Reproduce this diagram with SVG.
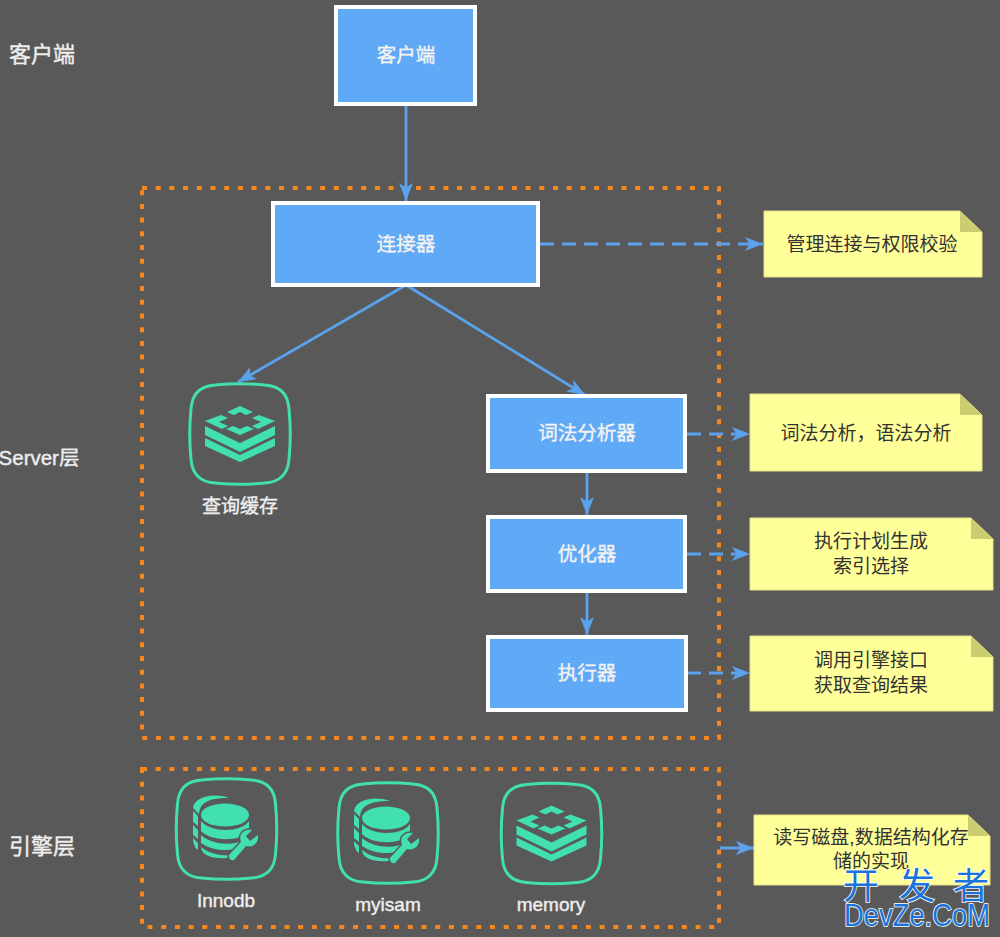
<svg xmlns="http://www.w3.org/2000/svg" xmlns:xlink="http://www.w3.org/1999/xlink" width="1000" height="937" viewBox="0 0 1000 937">
<style>
text{font-family:"Liberation Sans","Noto Sans CJK SC",sans-serif;text-anchor:middle}
.lbl{fill:#eeeeee;font-size:22px;stroke:#eeeeee;stroke-width:.4}
.box{fill:#60a9f6;stroke:#fff;stroke-width:4}
.boxt{fill:#f2f2f2;font-size:19.500px;stroke:#f2f2f2;stroke-width:.4}
.note{fill:#ffff99;stroke:#e6e08a;stroke-width:1}
.fold{fill:#cccc70}
.nt{fill:#333;font-size:19px}
.frame{fill:none;stroke:#f5871f;stroke-width:4;stroke-dasharray:5 8.700}
.c{fill:none;stroke:#5aa2ec;stroke-width:2.800}
.d{stroke-dasharray:14 8}
.ic{fill:none;stroke:#42dfb0;stroke-width:3}
.g{fill:#42dfb0}
.it{fill:#eeeeee;font-size:19px;stroke:#eeeeee;stroke-width:.4}
.wm{fill:#1a73d8;stroke:#fff;stroke-width:1.600;paint-order:stroke}
</style>
<defs>
<marker id="a" markerUnits="userSpaceOnUse" markerWidth="20" markerHeight="16" refX="18" refY="8" orient="auto"><path d="M0 1L18 8L0 15L4.500 8Z" fill="#5aa2ec"/></marker>
<path id="sq" class="ic" d="M-25-49C-10-50.500 10-50.500 25-49C40-48 48-40 49-25C50.500-10 50.500 10 49 25C48 40 40 48 25 49C10 50.500-10 50.500-25 49C-40 48-48 40-49 25C-50.500 10-50.500-10-49-25C-48-40-40-48-25-49Z"/>
<g id="stack">
<path class="g" d="M0-28L13-22L6-19L0-22L-6-19L-13-22ZM-19-19L-12-16L-21-12L-12-8L-18-5L-35-13ZM19-19L35-13L18-5L12-8L21-12L12-16ZM-7-8L0-5L7-8L14-5L0 1L-14-5Z"/>
<path class="g" d="M-35-8L0 9L35-8V1L0 18L-35 1ZM-35 4L0 21L35 4V12L0 28L-35 12Z"/>
</g>
<g id="db">
<path class="g" d="M-33-20C-32-30-15-36 3-30C-12-30-26-28-27-14ZM-33-17L-28-12V-2L-33-6ZM-33-3L-28 2V11L-33 7ZM-33 10L-28 15V22C-31 20-33 16-33 10Z"/>
<ellipse class="g" cx="-1" cy="-13" rx="24" ry="11.500"/>
<path class="g" d="M-25-7C-15 5 15 5 23-7V3C15 14-15 14-25 3ZM-25 7C-15 17 8 18 18 12L11 20C0 24-15 22-25 15ZM-25 19C-15 27-3 28 6 27L1 30C-12 31-25 28-25 19Z"/>
<path class="g" stroke="#595959" stroke-width="3" paint-order="stroke" d="M3 27L15 14C12 6 18 1 26 2L20 8L24 13L32 7C33 15 27 20 20 18L8 32A4 4 0 0 1 3 27Z"/>
</g>
</defs>
<rect width="1000" height="937" fill="#595959"/>
<g id="labels">
<text class="lbl" x="42" y="62">客户端</text>
<text class="lbl" x="39" y="465" style="font-size:20.500px">Server层</text>
<text class="lbl" x="42" y="854">引擎层</text>
</g>
<g id="frames">
<rect class="frame" x="142" y="188" width="577" height="550"/>
<rect class="frame" x="142" y="769" width="577" height="158"/>
</g>
<g id="connectors">
<path class="c" d="M406 105V201" marker-end="url(#a)"/>
<path class="c" d="M406 285L238 382" marker-end="url(#a)"/>
<path class="c" d="M406 285L585 395" marker-end="url(#a)"/>
<path class="c" d="M587 473V515" marker-end="url(#a)"/>
<path class="c" d="M587 593V635" marker-end="url(#a)"/>
<path class="c d" d="M540 244H763" marker-end="url(#a)"/>
<path class="c d" d="M687 434H750" marker-end="url(#a)"/>
<path class="c d" d="M687 554H750" marker-end="url(#a)"/>
<path class="c d" d="M687 673H750" marker-end="url(#a)"/>
<path class="c" d="M720 848H754" marker-end="url(#a)"/>
</g>
<g id="client"><rect class="box" x="336" y="7" width="139" height="97"/><text class="boxt" x="406" y="62">客户端</text></g>
<g id="connector"><rect class="box" x="273" y="203" width="265" height="82"/><text class="boxt" x="406" y="251">连接器</text></g>
<g id="parser"><rect class="box" x="488" y="396" width="197" height="75"/><text class="boxt" x="587" y="440">词法分析器</text></g>
<g id="optimizer"><rect class="box" x="488" y="517" width="197" height="74"/><text class="boxt" x="587" y="561">优化器</text></g>
<g id="executor"><rect class="box" x="488" y="637" width="198" height="73"/><text class="boxt" x="587" y="680">执行器</text></g>
<g id="cache"><use xlink:href="#sq" href="#sq" x="240" y="434"/><use xlink:href="#stack" href="#stack" x="240" y="434"/><text class="it" x="240" y="513">查询缓存</text></g>
<g id="innodb"><use xlink:href="#sq" href="#sq" x="226.500" y="829"/><use xlink:href="#db" href="#db" x="226" y="828"/><text class="it" x="226" y="907">Innodb</text></g>
<g id="myisam"><use xlink:href="#sq" href="#sq" x="388" y="833"/><use xlink:href="#db" href="#db" x="387" y="831"/><text class="it" x="388" y="911">myisam</text></g>
<g id="memory"><use xlink:href="#sq" href="#sq" x="551.500" y="833.500"/><use xlink:href="#stack" href="#stack" x="551.500" y="833.500"/><text class="it" x="551" y="911">memory</text></g>
<g id="note1"><path class="note" d="M764 211H960L982 232V277H764Z"/><path class="fold" d="M960 211L982 232H960Z"/><text class="nt" x="872" y="251">管理连接与权限校验</text></g>
<g id="note2"><path class="note" d="M750 394H960L982 415V471H750Z"/><path class="fold" d="M960 394L982 415H960Z"/><text class="nt" x="866" y="440">词法分析，语法分析</text></g>
<g id="note3"><path class="note" d="M750 518H971L993 539V590H750Z"/><path class="fold" d="M971 518L993 539H971Z"/><text class="nt" x="871" y="548">执行计划生成</text><text class="nt" x="871" y="573">索引选择</text></g>
<g id="note4"><path class="note" d="M750 636H971L993 657V711H750Z"/><path class="fold" d="M971 636L993 657H971Z"/><text class="nt" x="871" y="667">调用引擎接口</text><text class="nt" x="871" y="692">获取查询结果</text></g>
<g id="note5"><path class="note" d="M754 815H968L990 836V885H754Z"/><path class="fold" d="M968 815L990 836H968Z"/><text class="nt" x="871" y="844">读写磁盘,数据结构化存</text><text class="nt" x="871" y="868">储的实现</text></g>
<g id="watermark">
<text class="wm" x="861 917 971" y="899" font-size="36">开发者</text>
<text class="wm" x="917" y="926" font-size="31" textLength="146" lengthAdjust="spacingAndGlyphs">DevZe.CoM</text>
</g>
</svg>
